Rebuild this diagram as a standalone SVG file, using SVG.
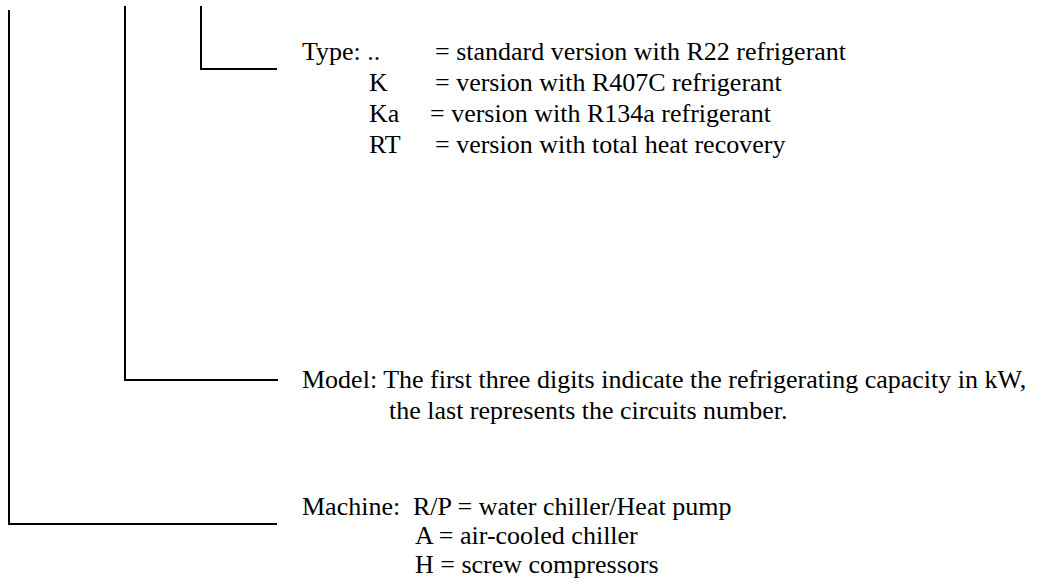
<svg xmlns="http://www.w3.org/2000/svg" width="1041" height="584" viewBox="0 0 1041 584">
  <style>
    .conn { fill: none; stroke: #000; stroke-width: 2; }
    text { font-family: "Liberation Serif", "Times New Roman", serif; font-size: 26px; fill: #000; }
  </style>
  <rect width="1041" height="584" fill="#fff"/>
  <g id="connectors">
    <polyline class="conn" points="9,10 9,524 277,524"/>
    <polyline class="conn" points="125,6 125,380 278,380"/>
    <polyline class="conn" points="201,6 201,69 277,69"/>
  </g>
  <g id="type">
    <text x="302" y="60">Type: ..</text>
    <text x="435" y="60">= standard version with R22 refrigerant</text>
    <text x="369" y="91">K</text>
    <text x="435" y="91">= version with R407C refrigerant</text>
    <text x="369" y="122">Ka</text>
    <text x="430" y="122">= version with R134a refrigerant</text>
    <text x="369" y="153">RT</text>
    <text x="435" y="153">= version with total heat recovery</text>
  </g>
  <g id="model">
    <text x="302" y="388">Model: The first three digits indicate the refrigerating capacity in kW,</text>
    <text x="389" y="419">the last represents the circuits number.</text>
  </g>
  <g id="machine">
    <text x="302" y="515">Machine:</text>
    <text x="413" y="515">R/P = water chiller/Heat pump</text>
    <text x="415" y="544">A = air-cooled chiller</text>
    <text x="415" y="573">H = screw compressors</text>
  </g>
</svg>
